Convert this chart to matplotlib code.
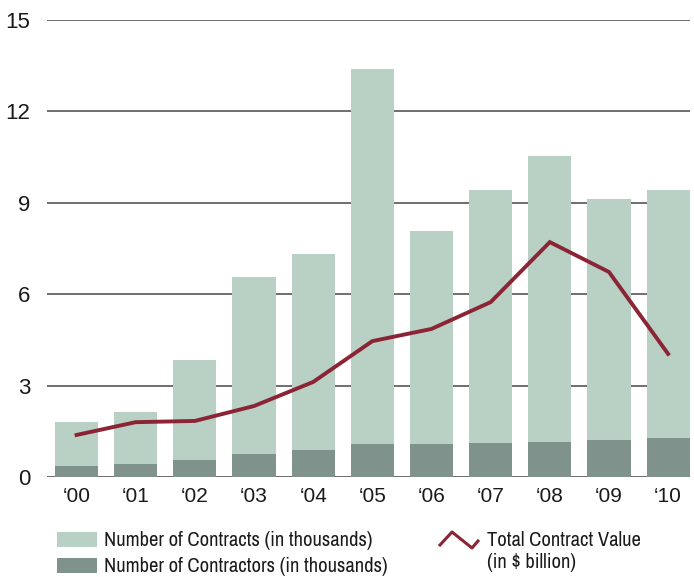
import matplotlib
matplotlib.use('Agg')
import matplotlib.pyplot as plt
from matplotlib.patches import Rectangle
from matplotlib.lines import Line2D
from matplotlib import font_manager
import numpy as np

years = ['\u201800', '\u201801', '\u201802', '\u201803', '\u201804', '\u201805',
         '\u201806', '\u201807', '\u201808', '\u201809', '\u201810']
contracts = [1.80, 2.13, 3.84, 6.56, 7.32, 13.39, 8.09, 9.42, 10.53, 9.12, 9.42]
contractors = [0.36, 0.43, 0.56, 0.75, 0.89, 1.08, 1.08, 1.12, 1.15, 1.22, 1.28]
contract_value = [1.38, 1.80, 1.84, 2.33, 3.12, 4.46, 4.86, 5.74, 7.71, 6.73, 4.04]
y_ticks = [0, 3, 6, 9, 12, 15]

light_green = '#b9d0c4'
dark_green = '#7f928c'
wine = '#8b2434'
grid_color = '#555555'


def weight_num(w):
    if isinstance(w, int):
        return w
    return font_manager.weight_dict.get(w, 400)


# look for a condensed regular face for the legend
candidates = []
for f in font_manager.fontManager.ttflist:
    is_narrow = 'Narrow' in f.name or 'Condensed' in f.name or f.stretch in ('condensed', 'semi-condensed')
    if is_narrow and f.style == 'normal':
        candidates.append((abs(weight_num(f.weight) - 400), f.name, f.fname))
candidates.sort()
narrow = candidates[0][2] if candidates and candidates[0][0] <= 100 else None

plt.rcParams['font.family'] = ['Liberation Sans', 'DejaVu Sans']

fig = plt.figure(figsize=(6.94, 5.77), dpi=100)
W, H = 694.0, 577.0
ax = fig.add_axes([47 / W, 1 - 477 / H, 643 / W, 457 / H])

x = np.arange(len(years))
width = 0.73
ax.bar(x, contracts, width=width, color=light_green, zorder=2)
ax.bar(x, contractors, width=width, color=dark_green, zorder=3)
ax.plot(x, contract_value, color=wine, lw=2.8, zorder=4, solid_joinstyle='miter')

ax.set_xlim(-0.5, 10.37)
ax.set_ylim(0, 15)
ax.set_yticks(y_ticks)
ax.set_yticklabels([str(v) for v in y_ticks], fontsize=16)
ax.set_xticks(x)
ax.set_xticklabels(years, fontsize=15)
ax.tick_params(axis='y', length=0, pad=12, colors='#1a1a1a')
ax.tick_params(axis='x', length=0, pad=7, colors='#1a1a1a')
for v in y_ticks:
    ax.axhline(v, color=grid_color, lw=1.2, zorder=1)
for s in ax.spines.values():
    s.set_visible(False)

if narrow:
    leg_font = dict(fontproperties=font_manager.FontProperties(fname=narrow, size=14.8))
else:
    leg_font = dict(fontsize=12.5)


def px(xp, yp):
    return xp / W, 1 - yp / H


for (y0, col, label) in [(532, light_green, 'Number of Contracts (in thousands)'),
                         (558, dark_green, 'Number of Contractors (in thousands)')]:
    fx, fy = px(57, y0 + 15)
    fig.add_artist(Rectangle((fx, fy), 40 / W, 15 / H, transform=fig.transFigure,
                             facecolor=col, edgecolor='none'))
    tx, ty = px(104, y0 + 8)
    fig.text(tx, ty, label, va='center', ha='left', color='#1a1a1a', **leg_font)

lx = [440, 452, 472, 478]
ly = [545, 532, 548, 541]
fig.add_artist(Line2D([v / W for v in lx], [1 - v / H for v in ly], transform=fig.transFigure,
                      color=wine, lw=2.2))
tx, ty = px(487, 540)
fig.text(tx, ty, 'Total Contract Value', va='center', ha='left', color='#1a1a1a', **leg_font)
tx, ty = px(487, 563)
fig.text(tx, ty, '(in $ billion)', va='center', ha='left', color='#1a1a1a', **leg_font)

fig.savefig('out.png', dpi=100)
